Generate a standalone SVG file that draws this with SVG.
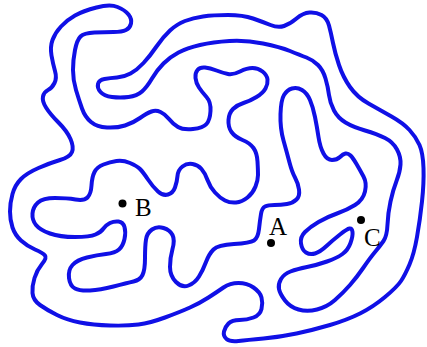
<svg xmlns="http://www.w3.org/2000/svg" width="427" height="347" viewBox="0 0 427 347">
<style>
.curve{fill:none;stroke:#1010e6;stroke-width:4;stroke-linejoin:round;stroke-linecap:round}
.dot{fill:#000}
.lbl{font-family:"Liberation Serif","Times New Roman",serif;font-size:25px;fill:#000}
</style>
<rect width="427" height="347" fill="#fff"/>
<g id="curve">
<path class="curve" d="M 38.5,168 Q 50,163 60,160 Q 70,157 72,152 Q 74,147 70.5,139 Q 67,131 58.5,122.5 Q 50,114 46,107.5 Q 42,101 43,96.5 Q 44,92 48,90 Q 52,88 54.5,83 Q 57,78 55,71 Q 53,64 51.5,55.5 Q 50,47 52.5,40 Q 55,33 61,26.5 Q 67,20 75,15.5 Q 83,11 96.5,7.5 Q 110,4 117.5,7 Q 125,10 128.5,14.5 Q 132,19 131,23.5 Q 130,28 126,30 Q 122,32 113.5,32 Q 105,32 94.5,32.5 Q 84,33 80.5,36.5 Q 77,40 75,50 Q 73,60 73,70 Q 73,80 76,90 Q 79,100 82,108.5 Q 85,117 91,122 Q 97,127 107,127.5 Q 117,128 125,125.5 Q 133,123 140,118 Q 147,113 151.5,111.5 Q 156,110 160.5,112 Q 165,114 169,119 Q 173,124 178,127 Q 183,130 193,129 Q 203,128 206.5,124 Q 210,120 210.5,111 Q 211,102 206.5,97 Q 202,92 199,87.5 Q 196,83 195.5,78 Q 195,73 197.5,70 Q 200,67 205,67.5 Q 210,68 216.5,70.5 Q 223,73 228,74 Q 233,75 240,71.5 Q 247,68 252.5,68 Q 258,68 262.5,71.5 Q 267,75 267.5,79.5 Q 268,84 265.5,88.5 Q 263,93 256.5,97 Q 250,101 243.5,103 Q 237,105 233,109 Q 229,113 228.5,120 Q 228,127 231.5,132 Q 235,137 242.5,140 Q 250,143 253.5,148 Q 257,153 257.5,161.5 Q 258,170 258,175 Q 258,180 255.5,186.5 Q 253,193 247.5,197.5 Q 242,202 236,202.5 Q 230,203 225,200.5 Q 220,198 215,192.5 Q 210,187 207.5,180 Q 205,173 201.5,169 Q 198,165 192.5,164 Q 187,163 182.5,166.5 Q 178,170 177.5,176 Q 177,182 175,187.5 Q 173,193 168,194.5 Q 163,196 158,191.5 Q 153,187 148,179.5 Q 143,172 140,169 Q 137,166 130,163 Q 123,160 116.5,161 Q 110,162 103.5,164.5 Q 97,167 94.5,172 Q 92,177 91.5,185.5 Q 91,194 87.5,197.5 Q 84,201 75.5,199.5 Q 67,198 55,198 Q 43,198 38,202.5 Q 33,207 32.5,213.5 Q 32,220 36,225 Q 40,230 50,233.5 Q 60,237 75,237 Q 90,237 95.5,234.5 Q 101,232 103.5,228.5 Q 106,225 110,223 Q 114,221 118.5,221.5 Q 123,222 124.5,227 Q 126,232 124.5,239 Q 123,246 119,249.5 Q 115,253 106,254 Q 97,255 87,257.5 Q 77,260 72.5,265 Q 68,270 69,278 Q 70,286 75,288.5 Q 80,291 90,290.5 Q 100,290 113.5,286.5 Q 127,283 133.5,281.5 Q 140,280 142.5,275 Q 145,270 145,258 Q 145,246 146,239.5 Q 147,233 152,229.5 Q 157,226 163.5,228 Q 170,230 172.5,235 Q 175,240 172.5,249 Q 170,258 170,267 Q 170,276 176,282 Q 182,288 188.5,285.5 Q 195,283 199,276.5 Q 203,270 206,262 Q 209,254 213.5,249.5 Q 218,245 234,244 Q 250,243 254,240.5 Q 258,238 259,229 Q 260,220 261,214 Q 262,208 265,206.5 Q 268,205 274.5,205 Q 281,205 287,204 Q 293,203 296.5,199.5 Q 300,196 299,189.5 Q 298,183 295,177.5 Q 292,172 289.5,162.5 Q 287,153 283.5,140.5 Q 280,128 280.5,114 Q 281,100 284,95 Q 287,90 292,88.5 Q 297,87 302,90 Q 307,93 310,100 Q 313,107 315,117 Q 317,127 318.5,137 Q 320,147 323.5,153.5 Q 327,160 332,160 Q 337,160 340,157 Q 343,154 345.5,153.5 Q 348,153 350.5,155.5 Q 353,158 356.5,164 Q 360,170 363.5,176.5 Q 367,183 365,191.5 Q 363,200 355,205 Q 347,210 337,213.5 Q 327,217 318.5,222 Q 310,227 305,232 Q 300,237 301,243.5 Q 302,250 306,252.5 Q 310,255 315,253.5 Q 320,252 326.5,246 Q 333,240 340,234.5 Q 347,229 349.5,228.5 Q 352,228 352.5,232 Q 353,236 350.5,243 Q 348,250 342.5,254 Q 337,258 327,261.5 Q 317,265 307,267 Q 297,269 290.5,271.5 Q 284,274 281,279 Q 278,284 279,289 Q 280,294 285,300.5 Q 290,307 298.5,309.5 Q 307,312 317,309.5 Q 327,307 335,300 Q 343,293 350,285 Q 357,277 363.5,267.5 Q 370,258 375,252 Q 380,246 383.5,241 Q 387,236 387.5,224.5 Q 388,213 390.5,201.5 Q 393,190 396.5,181 Q 400,172 400.5,164.5 Q 401,157 397,149.5 Q 393,142 385,138 Q 377,134 365,130.5 Q 353,127 345.5,122.5 Q 338,118 334,110.5 Q 330,103 329,95 Q 328,87 325.5,78.5 Q 323,70 318,65 Q 313,60 306.5,57.5 Q 300,55 290,51 Q 280,47 263,43.5 Q 246,40 229.5,41 Q 213,42 200,45 Q 187,48 178.5,52.5 Q 170,57 163.5,63.5 Q 157,70 152,78.5 Q 147,87 142,91.5 Q 137,96 128.5,97 Q 120,98 112,97 Q 104,96 100.5,92 Q 97,88 98,84 Q 99,80 104.5,79 Q 110,78 117,77.5 Q 124,77 130.5,73.5 Q 137,70 143.5,63 Q 150,56 156.5,46.5 Q 163,37 170,30.5 Q 177,24 185,21 Q 193,18 203,16.5 Q 213,15 228,15 Q 243,15 253,18.5 Q 263,22 270.5,25 Q 278,28 284,26 Q 290,24 296.5,18.5 Q 303,13 309.5,12.5 Q 316,12 321.5,15 Q 327,18 329,25.5 Q 331,33 333,43 Q 335,53 339,65 Q 343,77 350,87 Q 357,97 368.5,103.5 Q 380,110 391.5,116.5 Q 403,123 409.5,130 Q 416,137 419.5,145 Q 423,153 423.5,168 Q 424,183 422,201.5 Q 420,220 417,237 Q 414,254 409.5,264.5 Q 405,275 401,281 Q 397,287 385,297 Q 373,307 360,313.5 Q 347,320 330,325 Q 313,330 296.5,333.5 Q 280,337 263.5,338.5 Q 247,340 238.5,341 Q 230,342 226.5,339 Q 223,336 224,331.5 Q 225,327 228.5,323.5 Q 232,320 239.5,320 Q 247,320 253.5,317.5 Q 260,315 261.5,309 Q 263,303 261.5,297.5 Q 260,292 253.5,287.5 Q 247,283 238.5,283 Q 230,283 223.5,287.5 Q 217,292 208.5,297.5 Q 200,303 190,307.5 Q 180,312 165,317.5 Q 150,323 138.5,324.5 Q 127,326 110,325.5 Q 93,325 80,322.5 Q 67,320 57,315 Q 47,310 40,305 Q 33,300 32.5,293 Q 32,286 34.5,278 Q 37,270 42,264 Q 47,258 45,255.5 Q 43,253 35,249.5 Q 27,246 21,240.5 Q 15,235 12.5,227.5 Q 10,220 10,211.5 Q 10,203 12.5,194 Q 15,185 21,179 Q 27,173 38.5,168 Z"/>
</g>
<g id="point-B">
<circle class="dot" cx="122.5" cy="203.5" r="4"/>
<text class="lbl" x="135" y="216">B</text>
</g>
<g id="point-A">
<circle class="dot" cx="271" cy="243" r="4"/>
<text class="lbl" x="269" y="235">A</text>
</g>
<g id="point-C">
<circle class="dot" cx="361" cy="220" r="4"/>
<text class="lbl" x="364" y="246">C</text>
</g>
</svg>
